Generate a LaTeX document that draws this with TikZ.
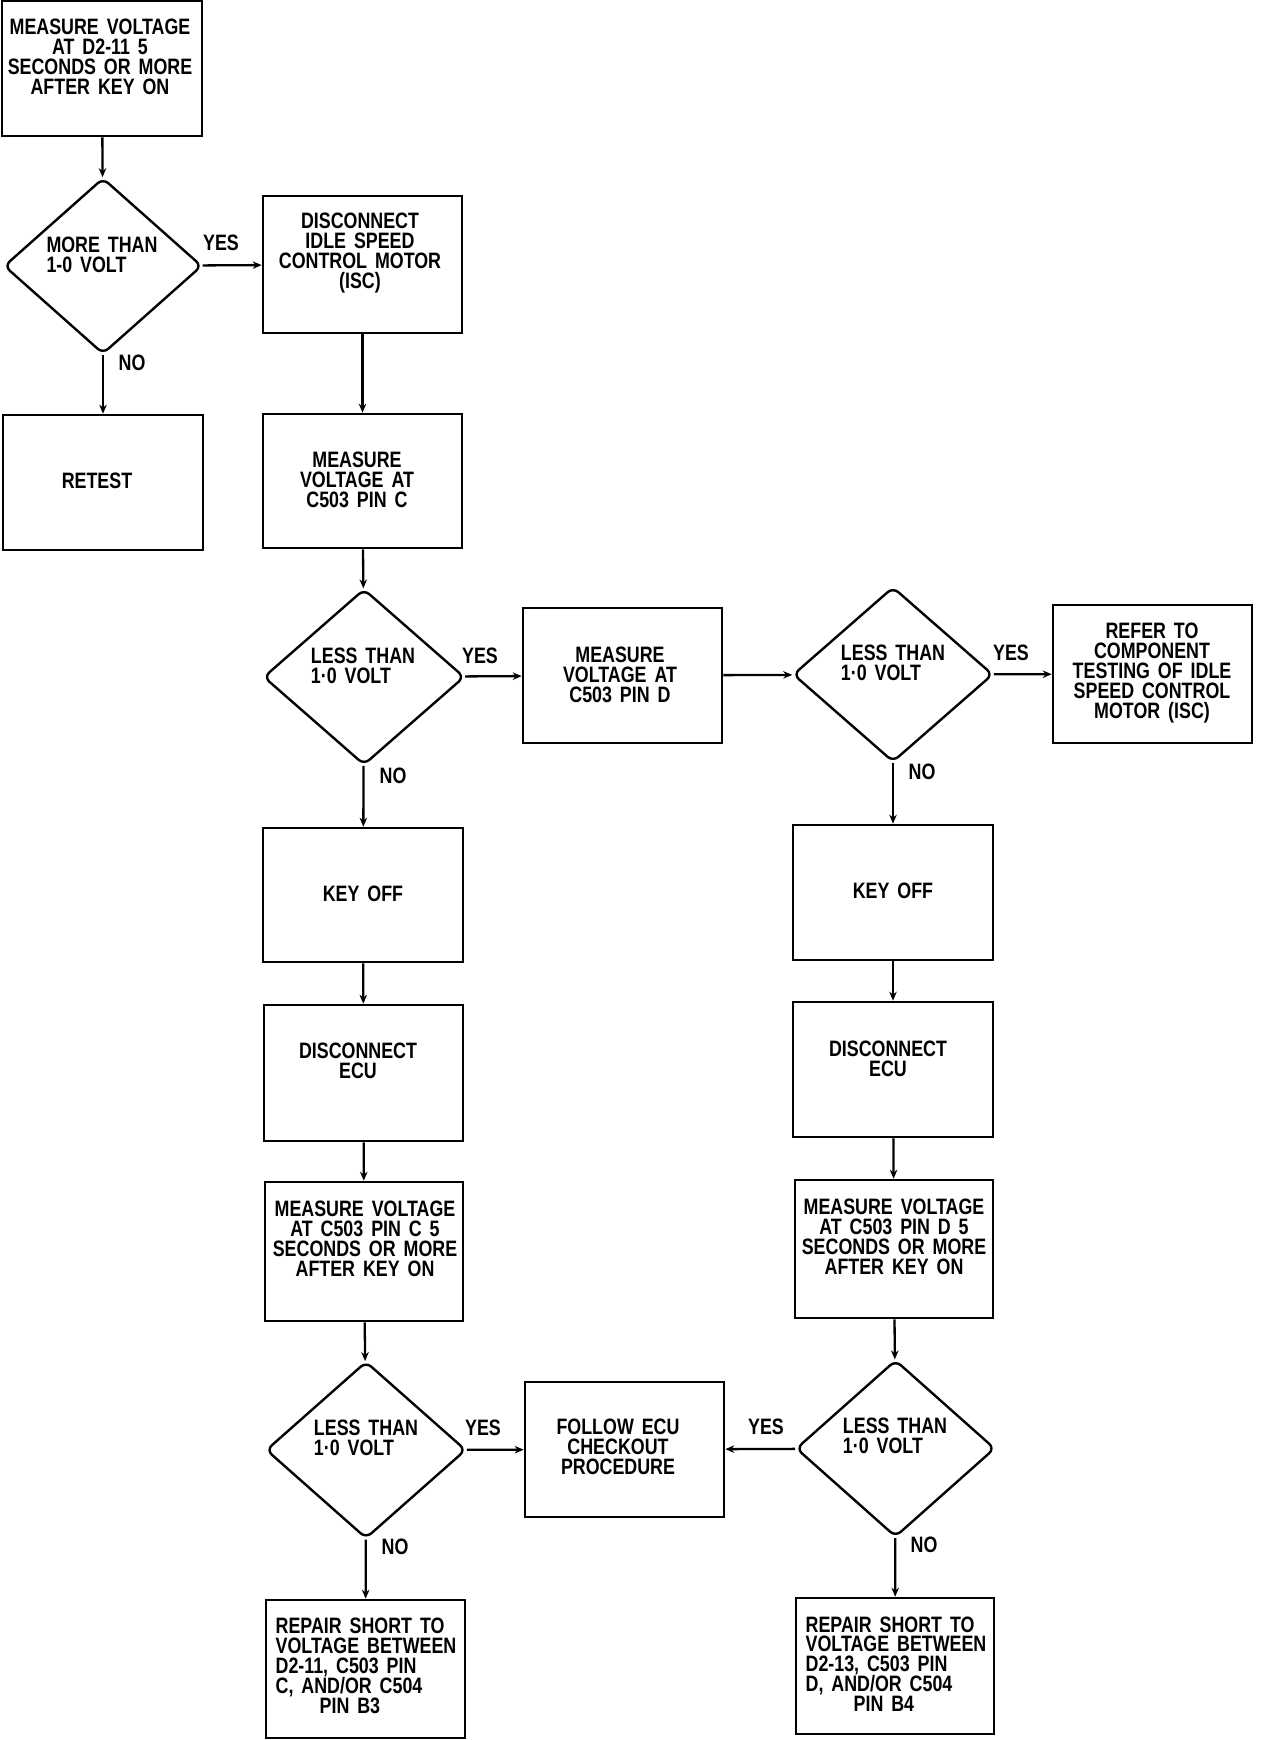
\documentclass[tikz,border=0pt]{standalone}
\usepackage{fontspec}
\setmainfont{Liberation Sans}[FakeStretch=0.8,WordSpace=1.6]
\usetikzlibrary{shapes.geometric,arrows.meta}
\newcommand\fcfont{\bfseries\fontsize{22.3pt}{19.9pt}\selectfont}
\begin{document}
\begin{tikzpicture}[x=1pt,y=-1pt,
  box/.style={draw,line width=2.6pt,minimum width=199pt,minimum height=136pt,inner sep=0pt},
  dec/.style={draw,diamond,line width=2.4pt,minimum width=200pt,minimum height=176pt,inner sep=0pt,rounded corners=7pt},
  txt/.style={font=\fcfont,align=center,inner sep=0pt},
  dtxt/.style={font=\fcfont,align=left,inner sep=0pt},
  lbl/.style={font=\fcfont,inner sep=0pt},
  conn/.style={line width=2.3pt,-{Stealth[length=9pt,width=7.5pt]}}]
\useasboundingbox (0,0) rectangle (1264,1740);
% shapes
\node[box,minimum width=200pt,minimum height=135pt] (box1) at (102,68.5) {};
\node[dec,minimum width=198pt] (d1) at (103,266) {};
\node[box,minimum height=137pt] (isc) at (362.5,264.5) {};
\node[box,minimum width=200pt,minimum height=135pt] (retest) at (103,482.5) {};
\node[box,minimum height=134pt] (c503c) at (362.5,481) {};
\node[dec,minimum width=201pt] (d2) at (364,677) {};
\node[box,minimum height=135pt] (c503d) at (622.5,675.5) {};
\node[dec,minimum height=175pt] (d3) at (893,674.5) {};
\node[box,minimum width=199pt,minimum height=138pt] (refer) at (1152.5,674) {};
\node[box,minimum width=200pt,minimum height=134pt] (keyL) at (363,895) {};
\node[box,minimum width=200pt,minimum height=135pt] (keyR) at (893,892.5) {};
\node[box,minimum height=136pt] (discL) at (363.5,1073) {};
\node[box,minimum width=200pt,minimum height=135pt] (discR) at (893,1069.5) {};
\node[box,minimum width=198pt,minimum height=139pt] (measL) at (364,1251.5) {};
\node[box,minimum width=198pt,minimum height=138pt] (measR) at (894,1249) {};
\node[dec,minimum height=177pt] (d4) at (366,1450) {};
\node[dec,minimum width=199pt,minimum height=177pt] (d5) at (895.5,1448.5) {};
\node[box,minimum height=135pt] (follow) at (624.5,1449.5) {};
\node[box,minimum height=138pt] (repL) at (365.5,1669) {};
\node[box,minimum width=198pt,minimum height=136pt] (repR) at (895,1666) {};
% texts
\node[txt] (t1) at (100,57) {MEASURE VOLTAGE\\AT D2-11 5\\SECONDS OR MORE\\AFTER KEY ON};
\node[dtxt] (td1) at (102,255) {MORE THAN\\1-0 VOLT};
\node[txt] (tisc) at (360,253) {DISCONNECT\\IDLE SPEED\\CONTROL MOTOR\\(ISC)};
\node[txt] (tretest) at (97,481) {RETEST};
\node[txt] (tc503c) at (357,480) {MEASURE\\VOLTAGE AT\\C503 PIN C};
\node[dtxt] (td2) at (363,666) {LESS THAN\\1·0 VOLT};
\node[txt] (tc503d) at (620,675) {MEASURE\\VOLTAGE AT\\C503 PIN D};
\node[dtxt] (td3) at (893,663) {LESS THAN\\1·0 VOLT};
\node[txt] (trefer) at (1152,673) {REFER TO\\COMPONENT\\TESTING OF IDLE\\SPEED CONTROL\\MOTOR (ISC)};
\node[txt] (tkeyL) at (363,894) {KEY OFF};
\node[txt] (tkeyR) at (893,891) {KEY OFF};
\node[txt] (tdiscL) at (358,1061) {DISCONNECT\\ECU};
\node[txt] (tdiscR) at (888,1059) {DISCONNECT\\ECU};
\node[txt] (tmeasL) at (365,1239) {MEASURE VOLTAGE\\AT C503 PIN C 5\\SECONDS OR MORE\\AFTER KEY ON};
\node[txt] (tmeasR) at (894,1237) {MEASURE VOLTAGE\\AT C503 PIN D 5\\SECONDS OR MORE\\AFTER KEY ON};
\node[dtxt] (td4) at (366,1438) {LESS THAN\\1·0 VOLT};
\node[dtxt] (td5) at (895,1436) {LESS THAN\\1·0 VOLT};
\node[txt] (tfollow) at (618,1447) {FOLLOW ECU\\CHECKOUT\\PROCEDURE};
\node[dtxt] (trepL) at (366,1666) {REPAIR SHORT TO\\VOLTAGE BETWEEN\\D2-11, C503 PIN\\C, AND/OR C504\\\hspace*{44pt}PIN B3};
\node[dtxt] (trepR) at (896,1664) {REPAIR SHORT TO\\VOLTAGE BETWEEN\\D2-13, C503 PIN\\D, AND/OR C504\\\hspace*{48pt}PIN B4};
% labels
\node[lbl] (y1) at (221,243) {YES};
\node[lbl] (n1) at (132,363) {NO};
\node[lbl] (y2) at (480,656) {YES};
\node[lbl] (n2) at (393,776) {NO};
\node[lbl] (y3) at (1011,653) {YES};
\node[lbl] (n3) at (922,772) {NO};
\node[lbl] (y4) at (483,1428) {YES};
\node[lbl] (y5) at (766,1427) {YES};
\node[lbl] (n4) at (395,1547) {NO};
\node[lbl] (n5) at (924,1545) {NO};
% connectors
\draw[conn] (box1) -- (d1);
\draw[conn] (d1) -- (isc);
\draw[conn] (d1) -- (retest);
\draw[conn] (isc) -- (c503c);
\draw[conn] (c503c) -- (d2);
\draw[conn] (d2) -- (c503d);
\draw[conn] (c503d) -- (d3);
\draw[conn] (d3) -- (refer);
\draw[conn] (d2) -- (keyL);
\draw[conn] (d3) -- (keyR);
\draw[conn] (keyL) -- (discL);
\draw[conn] (keyR) -- (discR);
\draw[conn] (discL) -- (measL);
\draw[conn] (discR) -- (measR);
\draw[conn] (measL) -- (d4);
\draw[conn] (measR) -- (d5);
\draw[conn] (d4) -- (follow);
\draw[conn] (d5) -- (follow);
\draw[conn] (d4) -- (repL);
\draw[conn] (d5) -- (repR);
\end{tikzpicture}
\end{document}
